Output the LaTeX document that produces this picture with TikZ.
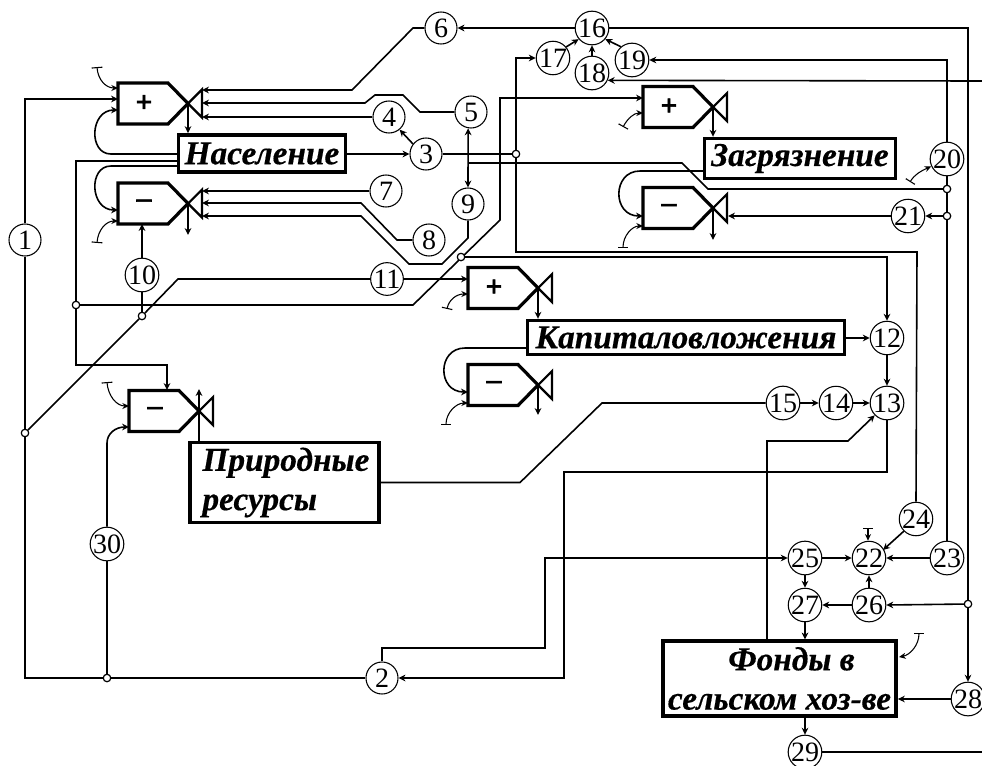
\documentclass[tikz,border=0pt]{standalone}
\usepackage{fontspec}
\setmainfont{Liberation Serif}
\newfontfamily\lblface[BoldItalicFeatures={FakeBold=0.4},BoldFeatures={FakeBold=2}]{Liberation Serif}
\usetikzlibrary{arrows.meta}
\tikzset{
  wire/.style={line width=1.2pt,line join=miter},
  arr/.style={wire,-{Stealth[length=5.2pt,width=5pt]}},
  darr/.style={wire,{Stealth[length=5.2pt,width=5pt]}-{Stealth[length=5.2pt,width=5pt]}},
  tarr/.style={line width=0.8pt,{Bar[width=8pt,length=0.9pt]}-{Stealth[length=5pt,width=4.5pt]}},
  num/.style={circle,draw,line width=0.8pt,fill=white,minimum size=24pt,inner sep=0pt,font=\fontsize{21}{21}\selectfont},
  dot/.style={circle,draw,line width=0.8pt,fill=white,minimum size=5.5pt,inner sep=0pt},
  lvl/.style={draw,line width=2.6pt,fill=white,inner sep=0pt,align=left,font=\lblface\fontsize{25}{29.5}\selectfont\bfseries\itshape},
  body/.style={line width=2.4pt,line join=miter,fill=white},
  gate/.style={line width=1.6pt,line join=miter},
  sign/.style={inner sep=0pt,font=\lblface\fontsize{22}{22}\selectfont\bfseries}
}
\newcommand{\valve}[4]{%
  \begin{scope}[shift={(#2,#3)}]
    \draw[gate] (70,0) -- (84,-14) -- (84,14) -- cycle;
    \draw[body] (0,-20.5) -- (50,-20.5) -- (70,0) -- (50,20.5) -- (0,20.5) -- cycle;
    \node[sign] (#1) at (26,0) {#4};
    \coordinate (#1-t) at (70,0);
  \end{scope}}
\begin{document}
\begin{tikzpicture}[x=0.75pt,y=-0.75pt]
\useasboundingbox (0,0) rectangle (982,765);
% valves
\valve{v1}{118}{103.5}{+}
\valve{v2}{118}{203.5}{–}
\valve{v3}{643}{107}{+}
\valve{v4}{643}{208}{–}
\valve{v5}{468}{288}{+}
\valve{v6}{468}{385}{–}
\valve{v7}{129}{411}{–}
% boxes
\node[lvl,minimum width=125pt,minimum height=28pt] (pop) at (262,153.5) {Население};
\node[lvl,minimum width=143pt,minimum height=30pt] (pol) at (800,158.5) {Загрязнение};
\node[lvl,minimum width=238pt,minimum height=25.5pt] (cap) at (686,337.5) {Капиталовложения};
\node[lvl,minimum width=142pt,minimum height=60pt] (nat) at (284.5,482.5) {\hspace*{2.2pt}Природные\\\hspace*{2.2pt}ресурсы};
\node[lvl,minimum width=175pt,minimum height=56pt,align=center] (fund) at (779.5,678.5) {\hspace*{18pt}Фонды в\\сельском хоз-ве};
% circles
\foreach \n/\x/\y in {1/25/240,2/382/678,3/426/154,4/389/117,5/471/112,6/441/28,7/386/191,8/429/240,9/468/204,10/142/275,11/387/279,
  12/887/338,13/887/403,14/836/403,15/783/403,16/592/28,17/553/58,18/592/73,19/632/60,20/947/159,21/908/216,
  22/869/558,23/947/558,24/916/519,25/805/558,26/869/605,27/805/605,28/968/699,29/805/752,30/107/544}
  \node[num] (n\n) at (\x,\y) {\n};
% junctions
\foreach \m/\x/\y in {a/25/433,b/142/316,c/76/305,d/461/257,e/516/154,f/947/189,g/947/216,h/968/604,i/107/678}
  \node[dot] (j\m) at (\x,\y) {};
% ports on the valves
\foreach \m/\x/\y in {p1/118/88,p2/118/99,p3/118/110,p4/202/90,p5/202/103,p6/202/117,
  p7/118/210,p8/118/221,p9/142/224,p10/202/191,p11/202/203,p12/202/216,
  p13/643/98,p14/643/113,p15/643/216,p16/643/226,p17/728/216,
  p18/468/279,p19/468/294,p20/468/392,p21/468/403,
  t1/97/67,t2/97/243,t3/447/309,t4/623/127,t5/623/248,t6/446/425,t7/107/382,t8/910/182,t9/919/633,t10/868/528,
  p22/167/390,p23/129/406,p24/129/427,
  r1/982/81,r2/982/752,e2/713/240,e6/538/415,e7/199/389}
  \coordinate (\m) at (\x,\y);
% valve outflows
\draw[arr] (v1-t) -- (v1-t |- pop.north);
\draw[arr] (v2-t) -- (188,235);
\draw[arr] (v3-t) -- (v3-t |- pol.north);
\draw[arr] (v4-t) -- (e2);
\draw[arr] (v5-t) -- (v5-t |- cap.north);
\draw[arr] (v6-t) -- (e6);
\draw[arr] (199,441) -- (e7);
% T inputs
\draw[tarr] (t1) .. controls (98,80) and (106,88) .. (p1);
\draw[tarr] (t2) .. controls (98,230) and (106,221) .. (p8);
\draw[tarr] (t3) .. controls (449,300) and (456,294) .. (p19);
\draw[tarr] (t4) .. controls (628,118) and (634,113) .. (p14);
\draw[tarr] (t5) .. controls (623,236) and (632,226) .. (p16);
\draw[tarr] (t6) .. controls (446,413) and (456,403) .. (p21);
\draw[tarr] (t7) .. controls (108,395) and (116,406) .. (p23);
\draw[tarr] (t8) .. controls (915,174) and (921,171) .. (n20.205);
\draw[tarr] (t9) .. controls (919,645) and (910,655) .. (899,657);
\draw[tarr] (t10) -- (n22.north -| t10);
% loops
\draw[arr] (177,154) -- (111,154) .. controls (88,154) and (90,110) .. (p3);
\draw[arr] (177,166) -- (111,166) .. controls (88,166) and (90,210) .. (p7);
\draw[arr] (703,171) -- (640,171) .. controls (612,171) and (612,216) .. (p15);
\draw[arr] (526,348) -- (465,348) .. controls (437,348) and (437,392) .. (p20);
% left part
\draw[arr] (n1.north) -- (25,99) -- (p2);
\draw[wire] (n1.south) -- (25,678) -- (n2.west);
\draw[wire] (ja) -- (jb) -- (178,279) -- (n11.west);
\draw[arr] (n11.east) -- (p18);
\draw[arr] (n10.north) -- (p9);
\draw[wire] (n10.south) -- (jb);
\draw[wire] (ji) -- (n30.south);
\draw[arr] (n30.north) -- (107,443) .. controls (107,434) and (115,427) .. (p24);
\draw[arr] (177,161) -- (76,161) -- (76,365) -- (167,365) -- (p22);
\draw[arr] (jc) -- (413,305) -- (500,220) -- (500,98) -- (p13);
% top of population valve
\draw[arr] (n6.west) -- (413,28) -- (352,90) -- (p4);
\draw[arr] (n5.west) -- (420,112) -- (403,95) -- (375,95) -- (365,103) -- (p5);
\draw[arr] (n4.west) -- (p6);
\draw[arr] (n3) ++(-13,-10) -- (n4.-50);
\draw[arr] (pop.east |- n3) -- (n3.west);
\draw[wire] (n3.east) -- (je);
\draw[arr] (je) -- (516,58) -- (n17.west);
\draw[wire] (je) -- (516,252) -- (917,252) -- (n24.north);
\draw[arr] (n24.225) -- (883,550);
\draw[darr] (n5.260) -- (n9.north);
\draw[wire] (jf) -- (708,189) -- (682,163) -- (468,163);
\draw[arr] (n9.south) -- (468,238) -- (442,264) -- (409,264) -- (361,216) -- (p12);
\draw[arr] (n8.west) -- (397,240) -- (361,203) -- (p11);
\draw[arr] (n7.west) -- (p10);
\draw[arr] (jd) -- (887,257) -- (n12.north);
% top right
\draw[arr] (n16.west) -- (n6.east);
\draw[arr] (n16.east) -- (968,28) -- (n28.north);
\draw[arr] (jh) -- (n26.east);
\draw[arr] (n17.40) -- (n16.220);
\draw[arr] (n18.north) -- (n16.south);
\draw[arr] (n19.130) -- (n16.-40);
\draw[arr] (n20.north) -- (947,60) -- (n19.east);
\draw[wire] (n20.south) -- (jf) -- (jg) -- (n23.north);
\draw[arr] (jg) -- (n21.east);
\draw[arr] (n21.west) -- (p17);
\draw[arr] (r1) -- (n18.-25);
\draw[wire] (n29.east) -- (r2);
% lower right
\draw[arr] (cap.east |- n12) -- (n12.west);
\draw[arr] (n12.south) -- (n13.north);
\draw[wire] (nat.east) -- (520,482.5) -- (602,403) -- (n15.west);
\draw[arr] (n15.east) -- (n14.west);
\draw[arr] (n14.east) -- (n13.west);
\draw[arr] (767,640) -- (767,441) -- (848,441) -- (n13.225);
\draw[arr] (n13.south) -- (887,472) -- (564,472) -- (564,678) -- (n2.east);
\draw[arr] (n2.north) -- (382,648) -- (545,648) -- (545,558) -- (n25.west);
\draw[arr] (n25.east) -- (n22.west);
\draw[arr] (n23.west) -- (n22.east);
\draw[arr] (n25.south) -- (n27.north);
\draw[arr] (n26.west) -- (n27.east);
\draw[arr] (n26.north) -- (n22.south);
\draw[arr] (n27.south) -- (n27.south |- fund.north);
\draw[arr] (n29.north |- fund.south) -- (n29.north);
\draw[arr] (n28.west) -- (fund.east |- n28);
% junction marks stay above the wires
\foreach \m/\x/\y in {a/25/433,b/142/316,c/76/305,d/461/257,e/516/154,f/947/189,g/947/216,h/968/604,i/107/678}
  \node[dot] at (\x,\y) {};
\end{tikzpicture}
\end{document}
